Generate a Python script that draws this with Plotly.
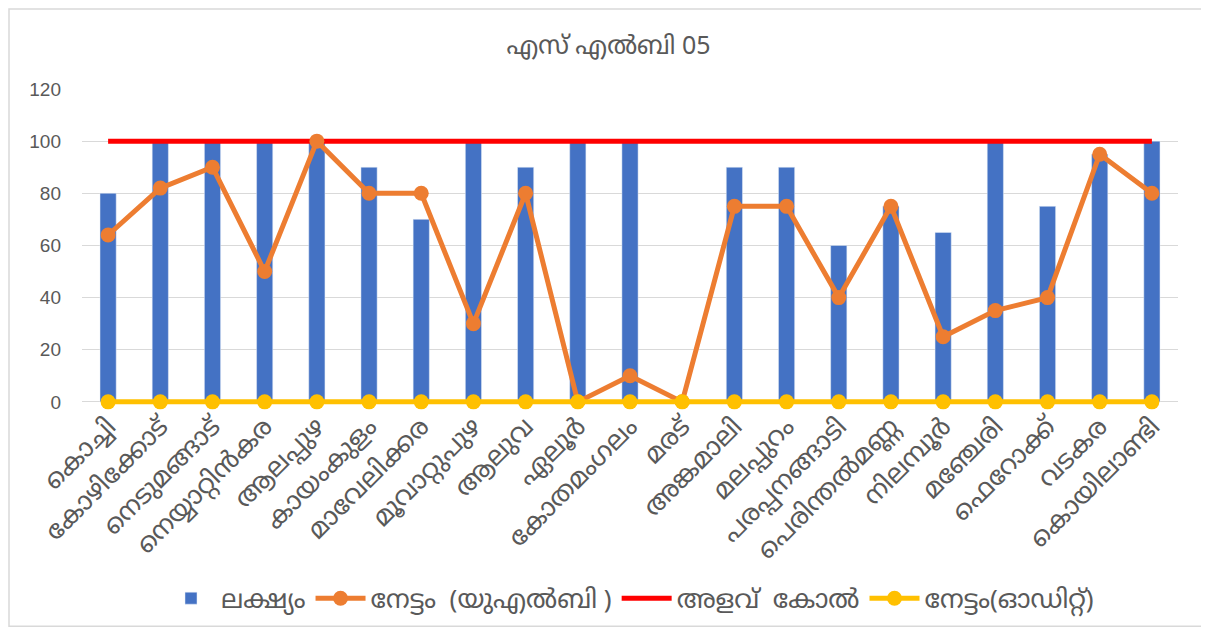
import plotly.graph_objects as go

categories = ["കൊച്ചി", "കോഴിക്കോട്", "നെടുമങ്ങാട്", "നെയ്യാറ്റിൻകര", "ആലപ്പുഴ", "കായംകുളം",
              "മാവേലിക്കര", "മൂവാറ്റുപുഴ", "ആലുവ", "ഏലൂർ", "കോതമംഗലം", "മരട്", "അങ്കമാലി",
              "മലപ്പുറം", "പരപ്പനങ്ങാടി", "പെരിന്തൽമണ്ണ", "നിലമ്പൂർ", "മഞ്ചേരി", "ഫെറോക്ക്",
              "വടകര", "കൊയിലാണ്ടി"]
target = [80, 100, 100, 100, 100, 90, 70, 100, 90, 100, 100, 0, 90, 90, 60, 75, 65, 100, 75, 95, 100]
achieved_ulb = [64, 82, 90, 50, 100, 80, 80, 30, 80, 0, 10, 0, 75, 75, 40, 75, 25, 35, 40, 95, 80]
benchmark = [100] * 21
achieved_audit = [0] * 21

names = ["ലക്ഷ്യം", "നേട്ടം  (യുഎൽബി )", "അളവ്  കോൽ", "നേട്ടം(ഓഡിറ്റ്)"]
title = "എസ് എൽബി 05"
y_ticks = [0, 20, 40, 60, 80, 100, 120]

FONT = "Noto Sans, Noto Sans Malayalam, sans-serif"
GREY = "#595959"

fig = go.Figure()
fig.add_trace(go.Bar(x=categories, y=target, name=names[0], marker_color="#4472C4",
                     width=0.31, legendrank=1))
fig.add_trace(go.Scatter(x=categories, y=benchmark, name=names[2], mode="lines",
                         line=dict(color="#FF0000", width=5), legendrank=3))
fig.add_trace(go.Scatter(x=categories, y=achieved_ulb, name=names[1], mode="lines+markers",
                         line=dict(color="#ED7D31", width=5),
                         marker=dict(size=15, color="#ED7D31"), legendrank=2))
fig.add_trace(go.Scatter(x=categories, y=achieved_audit, name=names[3], mode="lines+markers",
                         line=dict(color="#FFC000", width=5),
                         marker=dict(size=15, color="#FFC000"), legendrank=4, cliponaxis=False))

# page body offsets the figure by 8px, so size/margins are compensated
W, H = 1201, 619
ml, mr, mt = 74, 31, 81
y_min, y_max = -1.2, 120
px_per_unit = 312.7 / 120
plot_h = (y_max - y_min) * px_per_unit
mb = H - mt - plot_h
pw, ph = W - ml - mr, plot_h
fig.add_shape(type="rect", xref="paper", yref="paper",
              x0=(1 - ml) / pw, x1=(W - 3 - ml) / pw,
              y0=-(mb - 1) / ph, y1=1 + (mt - 1) / ph,
              line=dict(color="#D9D9D9", width=1.5), layer="below")

fig.update_layout(
    width=W, height=H,
    margin=dict(l=ml, r=mr, t=mt, b=mb, autoexpand=False),
    plot_bgcolor="white", paper_bgcolor="white",
    font=dict(family=FONT, color=GREY),
    title=dict(text=title, x=0.5, xanchor="center", y=1 - 37 / H, yanchor="middle",
               font=dict(size=25, color=GREY, family=FONT)),
    showlegend=True,
    legend=dict(orientation="h", x=0.5, xanchor="center", y=-(590 - (H - mb)) / ph, yanchor="middle",
                font=dict(size=26, color=GREY, family=FONT), traceorder="normal",
                itemwidth=50),
    xaxis=dict(range=[-0.5, 20.5], tickangle=-45, tickfont=dict(size=26, color=GREY, family=FONT),
               showgrid=False, showline=False, ticks="", automargin=False),
    yaxis=dict(range=[y_min, y_max], tickvals=y_ticks,
               tickfont=dict(size=19, color=GREY, family="Liberation Sans"),
               showgrid=True, gridcolor="#D9D9D9", gridwidth=1.3, zeroline=False, ticks="",
               ticklabelstandoff=20, automargin=False),
)

fig.write_html("out.html")
